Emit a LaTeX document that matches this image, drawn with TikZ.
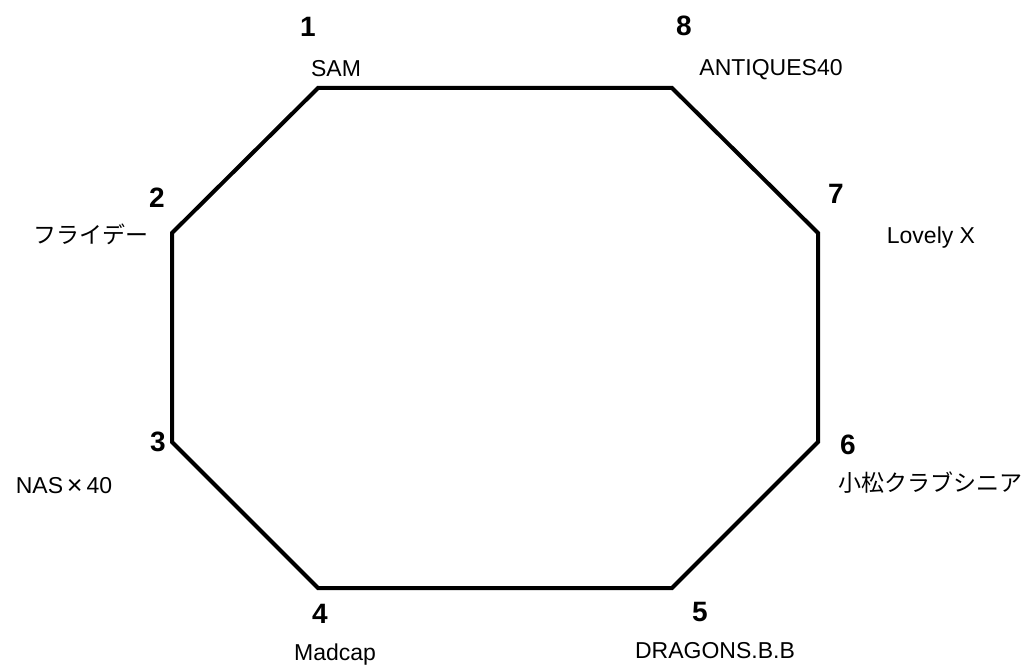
\documentclass[tikz,border=0pt]{standalone}
\usepackage{fontspec}
\setmainfont{Liberation Sans}
\newfontfamily\jpfont{Noto Sans CJK JP}
\usepackage{tikz}

\begin{document}
\begin{tikzpicture}[x=1pt,y=-1pt,
    num/.style={font=\fontsize{28}{28}\selectfont\bfseries, anchor=base, inner sep=0pt},
    team/.style={font=\fontsize{23}{23}\selectfont, anchor=base, inner sep=0pt}]
      \useasboundingbox (0,0) rectangle (1032,666);

      % corners of the octagon
      \coordinate (v1) at (318,88);
      \coordinate (v8) at (672,88);
      \coordinate (v7) at (818,233);
      \coordinate (v6) at (818,442);
      \coordinate (v5) at (672,588);
      \coordinate (v4) at (318,588);
      \coordinate (v3) at (172,442);
      \coordinate (v2) at (172,233);

      % octagon
      \draw[line width=4pt] (v1) -- (v8) -- (v7) -- (v6) -- (v5) -- (v4) -- (v3) -- (v2) -- cycle;

      %write numbers
      \node[num] (n1) at (308,37) {1};
      \node[num] (n2) at (157,207) {2};
      \node[num] (n3) at (158,451) {3};
      \node[num] (n4) at (320,623) {4};
      \node[num] (n5) at (700,621) {5};
      \node[num] (n6) at (848,454) {6};
      \node[num] (n7) at (836,203) {7};
      \node[num] (n8) at (684,36) {8};

      %write teams
      \node[team] (t1) at (336,77) {SAM};
      \node[team] (t2) at (91,243) {\jpfont フライデー};
      \node[team] (t3) at (64,493) {NAS\,\raisebox{-1.5pt}{\fontsize{27}{27}\selectfont ×}\,40};
      \node[team] (t4) at (335,660) {Madcap};
      \node[team] (t5) at (715,658) {DRAGONS.B.B};
      \node[team] (t6) at (930,491) {\jpfont 小松クラブシニア};
      \node[team] (t7) at (931,243) {Lovely X};
      \node[team] (t8) at (771,76) {ANTIQUES40};
    \end{tikzpicture}
\end{document}
